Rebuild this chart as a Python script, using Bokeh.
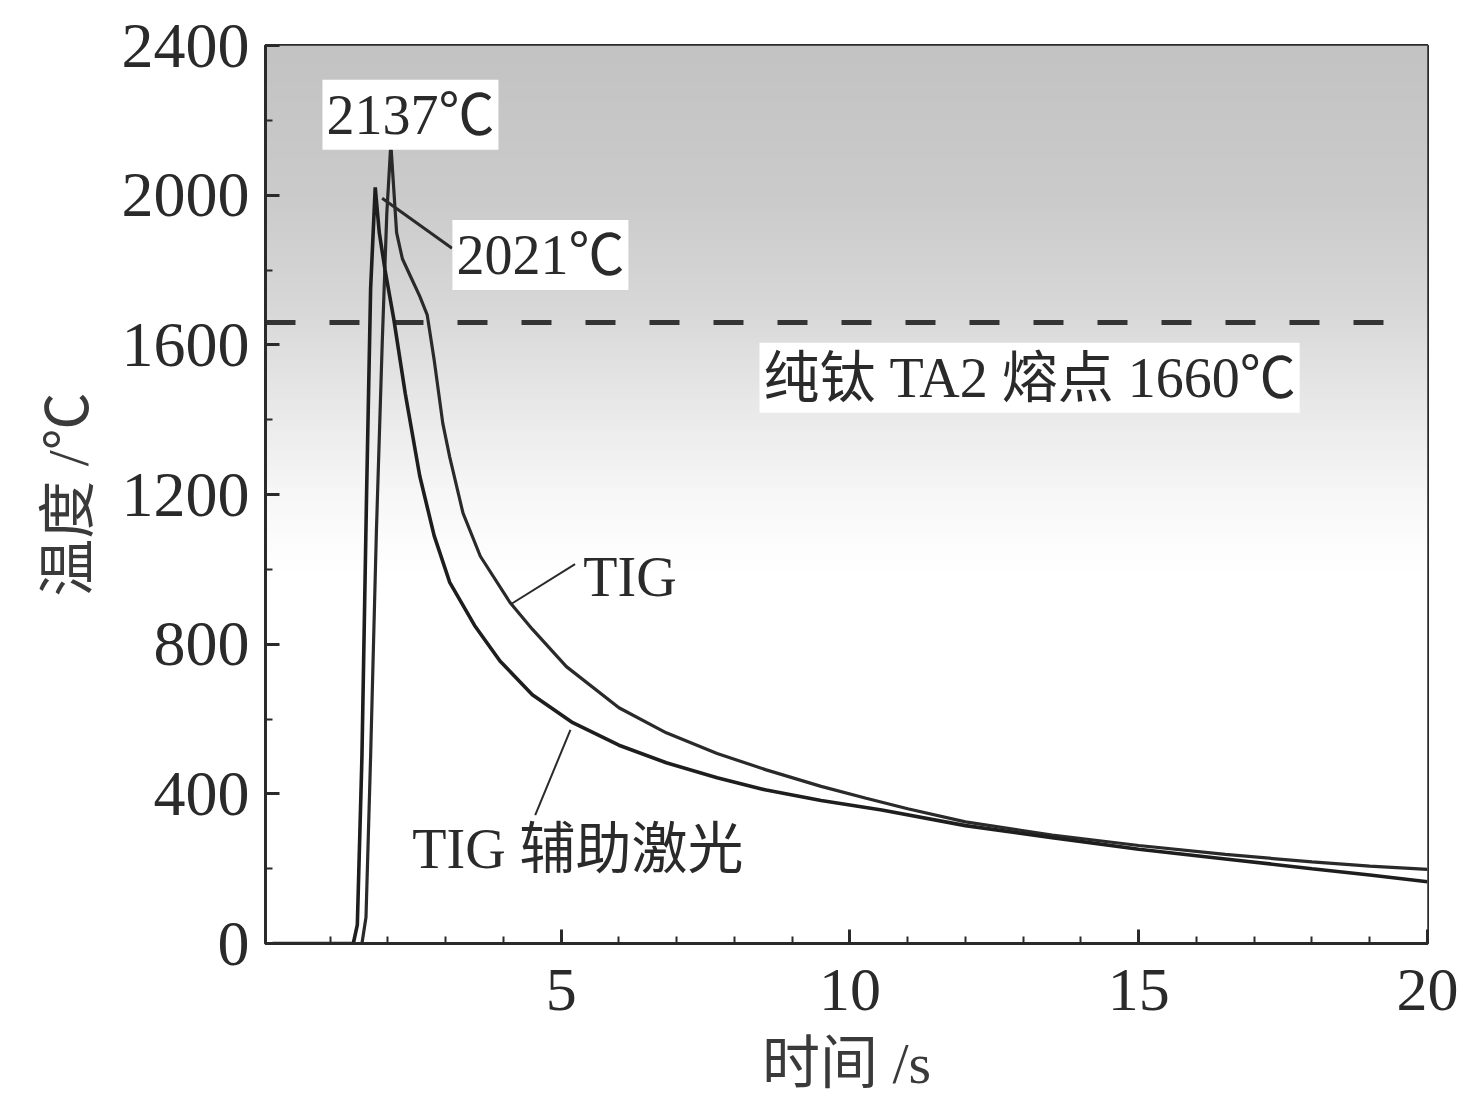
import numpy as np
from bokeh.plotting import figure
from bokeh.models import Range1d, FixedTicker, Label
from bokeh.embed import file_html
from bokeh.resources import INLINE

# ---- data ----
time_laser = [0.0, 1.40, 1.47, 1.55, 1.63, 1.70, 1.78, 1.85, 1.95, 2.10, 2.30, 2.55, 2.80,
              3.07, 3.50, 3.94, 4.50, 5.20, 6.00, 6.82, 7.70, 8.55, 9.50, 10.55, 12.0,
              13.5, 15.0, 16.5, 18.0, 19.0, 20.0]
temp_laser = [0, 0, 50, 500, 1200, 1750, 2021, 1900, 1800, 1670, 1470, 1250, 1090,
              965, 850, 755, 665, 590, 530, 483, 443, 410, 382, 357, 315,
              283, 252, 226, 200, 183, 165]

time_tig = [0.0, 1.55, 1.62, 1.70, 1.80, 1.90, 1.98, 2.05, 2.15, 2.25, 2.40, 2.55, 2.68,
            2.80, 2.95, 3.07, 3.30, 3.60, 4.11, 4.50, 5.09, 6.00, 6.82, 7.70, 8.55, 9.50,
            10.28, 11.0, 12.0, 13.5, 15.0, 16.5, 18.0, 19.0, 20.0]
temp_tig = [0, 0, 70, 500, 1100, 1600, 1950, 2137, 1900, 1830, 1780, 1730, 1680,
            1560, 1390, 1300, 1150, 1035, 912, 840, 740, 630, 563, 508, 464, 420,
            388, 360, 325, 290, 262, 238, 218, 207, 198]

melting_point = 1660
peak_tig = 2137
peak_laser = 2021

x_major_ticks = [5, 10, 15, 20]
x_minor_ticks = [1, 2, 3, 4, 6, 7, 8, 9, 11, 12, 13, 14, 16, 17, 18, 19]
y_major_ticks = [0, 400, 800, 1200, 1600, 2000, 2400]
y_minor_ticks = [200, 600, 1000, 1400, 1800, 2200]

SERIF = "Liberation Serif, Noto Sans CJK SC"
INK = "#2a2a2a"

X0, X1 = -0.12, 20.0
Y0, Y1 = 0, 2400

p = figure(width=1470, height=1104,
           x_range=Range1d(X0, X1), y_range=Range1d(Y0, Y1),
           output_backend="svg", toolbar_location=None,
           min_border_left=265, min_border_right=43,
           min_border_top=45, min_border_bottom=161)

p.background_fill_color = "white"
p.border_fill_color = "white"
p.xgrid.visible = False
p.ygrid.visible = False
p.outline_line_color = INK
p.outline_line_width = 3

# ---- background gradient (grey at top, white below) ----
H = 240
ys = np.linspace(Y0, Y1, H)
gray = np.interp(ys, [0, 1000, 1200, 1450, 1700, 2000, 2400],
                 [255, 255, 247, 232, 216, 203, 195]).astype(np.uint8)
img = np.empty((H, 2), dtype=np.uint32)
view = img.view(dtype=np.uint8).reshape((H, 2, 4))
view[..., 0] = gray[:, None]
view[..., 1] = gray[:, None]
view[..., 2] = gray[:, None]
view[..., 3] = 255
p.image_rgba(image=[img], x=X0, y=Y0, dw=X1 - X0, dh=Y1 - Y0)

# ---- melting point dashed line ----
p.line([X0, 19.4], [melting_point, melting_point], line_color="#333333",
       line_width=5, line_dash="30 34")

# ---- curves ----
p.line(time_tig, temp_tig, line_color=INK, line_width=3.2)
p.line(time_laser, temp_laser, line_color="#1e1e1e", line_width=3.6)

# ---- leader lines ----
p.line([1.90, 3.11], [1992, 1858], line_color=INK, line_width=3)
p.line([4.12, 5.24], [906, 1014], line_color=INK, line_width=2)
p.line([5.16, 4.55], [571, 343], line_color=INK, line_width=2)

# ---- labels ----
def add_label(x, y, text, size="56px", box=True):
    lab = Label(x=x, y=y, text=text, text_align="center", text_baseline="middle",
                text_font=SERIF, text_font_size=size, text_color=INK)
    if box:
        lab.background_fill_color = "white"
        lab.background_fill_alpha = 1.0
        lab.padding = 4
    p.add_layout(lab)

add_label(2.39, 2215, f"{peak_tig}℃")
add_label(4.64, 1840, f"{peak_laser}℃")
add_label(13.11, 1512, f"纯钛 TA2 熔点 {melting_point}℃")
add_label(6.19, 979, "TIG", box=False)
add_label(5.29, 252, "TIG 辅助激光", box=False)

# ---- axes ----
p.xaxis.ticker = FixedTicker(ticks=x_major_ticks, minor_ticks=x_minor_ticks)
p.yaxis.ticker = FixedTicker(ticks=y_major_ticks, minor_ticks=y_minor_ticks)
for ax in (p.xaxis[0], p.yaxis[0]):
    ax.axis_line_color = INK
    ax.axis_line_width = 3
    ax.major_tick_line_color = INK
    ax.major_tick_line_width = 3
    ax.minor_tick_line_color = INK
    ax.minor_tick_line_width = 2
    ax.major_tick_in = 14
    ax.major_tick_out = 0
    ax.minor_tick_in = 7
    ax.minor_tick_out = 0
    ax.major_label_text_font = SERIF
    ax.major_label_text_color = INK
    ax.axis_label_text_font = SERIF
    ax.axis_label_text_font_size = "58px"
    ax.axis_label_text_font_style = "normal"
    ax.axis_label_text_color = "#3a3a3a"

p.xaxis.major_label_text_font_size = "62px"
p.yaxis.major_label_text_font_size = "64px"
p.xaxis.axis_label = "时间 /s"
p.yaxis.axis_label = "温度 /℃"
p.xaxis.major_label_standoff = 26
p.xaxis.axis_label_standoff = 18
p.yaxis.major_label_standoff = 16
p.yaxis.axis_label_standoff = 18

open("out.html", "w").write(file_html(p, INLINE))
